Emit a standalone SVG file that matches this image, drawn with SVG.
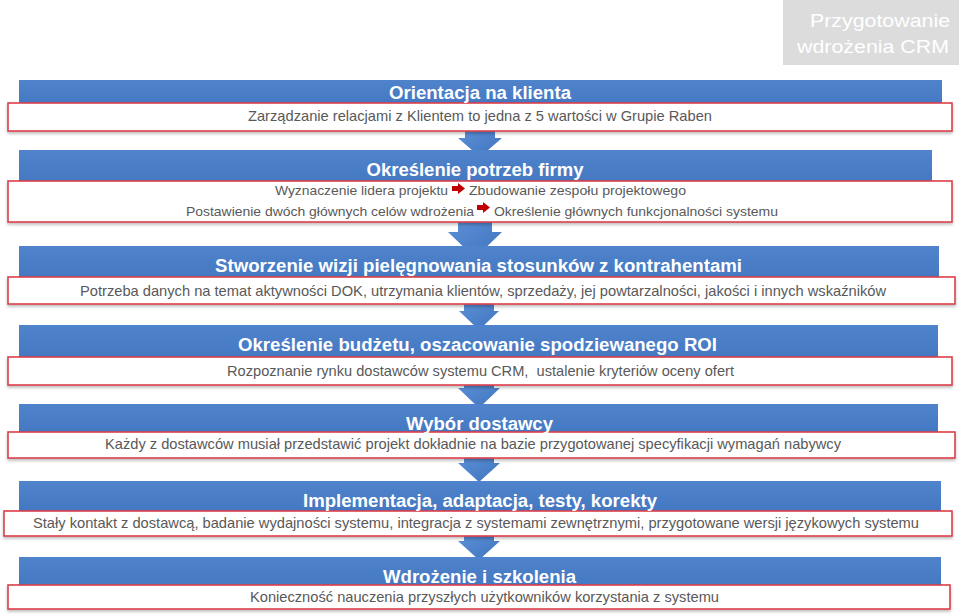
<svg xmlns="http://www.w3.org/2000/svg" width="960" height="615" viewBox="0 0 960 615">
<defs>
<linearGradient id="bandGrad" x1="0" y1="0" x2="0" y2="1">
<stop offset="0" stop-color="#4f84cc"/>
<stop offset="1" stop-color="#4478c2"/>
</linearGradient>
<linearGradient id="arrGrad" x1="0" y1="0" x2="1" y2="1">
<stop offset="0" stop-color="#5b8fd6"/>
<stop offset="1" stop-color="#3f73bd"/>
</linearGradient>
<filter id="sh" x="-5%" y="-20%" width="110%" height="160%">
<feDropShadow dx="0" dy="2" stdDeviation="1.5" flood-color="#000" flood-opacity="0.25"/>
</filter>
</defs>
<style>
.band{fill:url(#bandGrad);}
.box{fill:#ffffff;stroke:#dc3f4a;stroke-width:1.6;filter:url(#sh);}
.title{font-family:"Liberation Sans",Arial,sans-serif;font-weight:bold;font-size:18px;fill:#ffffff;text-anchor:middle;}
.body{font-family:"Liberation Sans",Arial,sans-serif;font-size:14.5px;fill:#595959;text-anchor:middle;}
.body2{font-family:"Liberation Sans",Arial,sans-serif;font-size:13.5px;fill:#595959;}
.arr{fill:url(#arrGrad);}
.red{fill:#c00000;}
.hdr{font-family:"Liberation Sans",Arial,sans-serif;font-size:19px;fill:#ffffff;text-anchor:middle;}
</style>
<rect width="960" height="615" fill="#ffffff"/>

<g id="header">
<rect x="783" y="0" width="176" height="65" fill="#dcdcdc"/>
<text class="hdr" x="880" y="27" textLength="140" lengthAdjust="spacingAndGlyphs">Przygotowanie</text>
<text class="hdr" x="873" y="53" textLength="152" lengthAdjust="spacingAndGlyphs">wdrożenia CRM</text>
</g>

<g id="connectors">
<polygon class="arr" points="465,131 495,131 495,138 502,138 480,157 458,138 465,138"/>
<polygon class="arr" points="458,222 492,222 492,232 502,232 475,258 448,232 458,232"/>
<polygon class="arr" points="464,304 494,304 494,311 499,311 479,330 459,311 464,311"/>
<polygon class="arr" points="464,385 494,385 494,388 500,388 479,408 458,388 464,388"/>
<polygon class="arr" points="464,458 494,458 494,463 500,463 479,482 458,463 464,463"/>
<polygon class="arr" points="464,536 494,536 494,541 500,541 479,560 458,541 464,541"/>
</g>

<g id="step1">
<rect class="band" x="19" y="80" width="923" height="24"/>
<rect class="box" x="8" y="103" width="944" height="28"/>
<text class="title" x="480" y="99" textLength="182" lengthAdjust="spacingAndGlyphs">Orientacja na klienta</text>
<text class="body" x="480" y="121" textLength="464" lengthAdjust="spacingAndGlyphs">Zarządzanie relacjami z Klientem to jedna z 5 wartości w Grupie Raben</text>
</g>

<g id="step2">
<rect class="band" x="19" y="150" width="913" height="32"/>
<rect class="box" x="8" y="181" width="944" height="41"/>
<text class="title" x="475" y="176" textLength="217" lengthAdjust="spacingAndGlyphs">Określenie potrzeb firmy</text>
<text class="body2" x="275" y="195" textLength="173" lengthAdjust="spacingAndGlyphs">Wyznaczenie lidera projektu</text>
<polygon class="red" points="452,186 458,186 458,183 465,188.5 458,194 458,191 452,191"/>
<text class="body2" x="469" y="195" textLength="217" lengthAdjust="spacingAndGlyphs">Zbudowanie zespołu projektowego</text>
<text class="body2" x="186" y="216" textLength="288" lengthAdjust="spacingAndGlyphs">Postawienie dwóch głównych celów wdrożenia</text>
<polygon class="red" points="477,205 483,205 483,202 490,207.5 483,213 483,210 477,210"/>
<text class="body2" x="494" y="216" textLength="284" lengthAdjust="spacingAndGlyphs">Określenie głównych funkcjonalności systemu</text>
</g>

<g id="step3">
<rect class="band" x="19" y="246" width="920" height="32"/>
<rect class="box" x="8" y="277" width="947" height="27"/>
<text class="title" x="478.5" y="272" textLength="527" lengthAdjust="spacingAndGlyphs">Stworzenie wizji pielęgnowania stosunków z kontrahentami</text>
<text class="body" x="483" y="296" textLength="806" lengthAdjust="spacingAndGlyphs">Potrzeba danych na temat aktywności DOK, utrzymania klientów, sprzedaży, jej powtarzalności, jakości i innych wskaźników</text>
</g>

<g id="step4">
<rect class="band" x="19" y="325" width="919" height="33"/>
<rect class="box" x="8" y="357" width="944" height="28"/>
<text class="title" x="477.5" y="351" textLength="479" lengthAdjust="spacingAndGlyphs">Określenie budżetu, oszacowanie spodziewanego ROI</text>
<text class="body" x="480.5" y="376" textLength="507" lengthAdjust="spacingAndGlyphs">Rozpoznanie rynku dostawców systemu CRM,&#160; ustalenie kryteriów oceny ofert</text>
</g>

<g id="step5">
<rect class="band" x="19" y="404" width="919" height="29"/>
<rect class="box" x="8" y="432" width="947" height="26"/>
<text class="title" x="479.5" y="430" textLength="147" lengthAdjust="spacingAndGlyphs">Wybór dostawcy</text>
<text class="body" x="473" y="449" textLength="736" lengthAdjust="spacingAndGlyphs">Każdy z dostawców musiał przedstawić projekt dokładnie na bazie przygotowanej specyfikacji wymagań nabywcy</text>
</g>

<g id="step6">
<rect class="band" x="19" y="481" width="922" height="30"/>
<rect class="box" x="4" y="511" width="948" height="25"/>
<text class="title" x="480" y="507" textLength="354" lengthAdjust="spacingAndGlyphs">Implementacja, adaptacja, testy, korekty</text>
<text class="body" x="476" y="528" textLength="886" lengthAdjust="spacingAndGlyphs">Stały kontakt z dostawcą, badanie wydajności systemu, integracja z systemami zewnętrznymi, przygotowane wersji językowych systemu</text>
</g>

<g id="step7">
<rect class="band" x="19" y="557" width="922" height="29"/>
<rect class="box" x="8" y="585" width="942" height="24"/>
<text class="title" x="479.5" y="583" textLength="193" lengthAdjust="spacingAndGlyphs">Wdrożenie i szkolenia</text>
<text class="body" x="484.5" y="602" textLength="469" lengthAdjust="spacingAndGlyphs">Konieczność nauczenia przyszłych użytkowników korzystania z systemu</text>
</g>
</svg>
